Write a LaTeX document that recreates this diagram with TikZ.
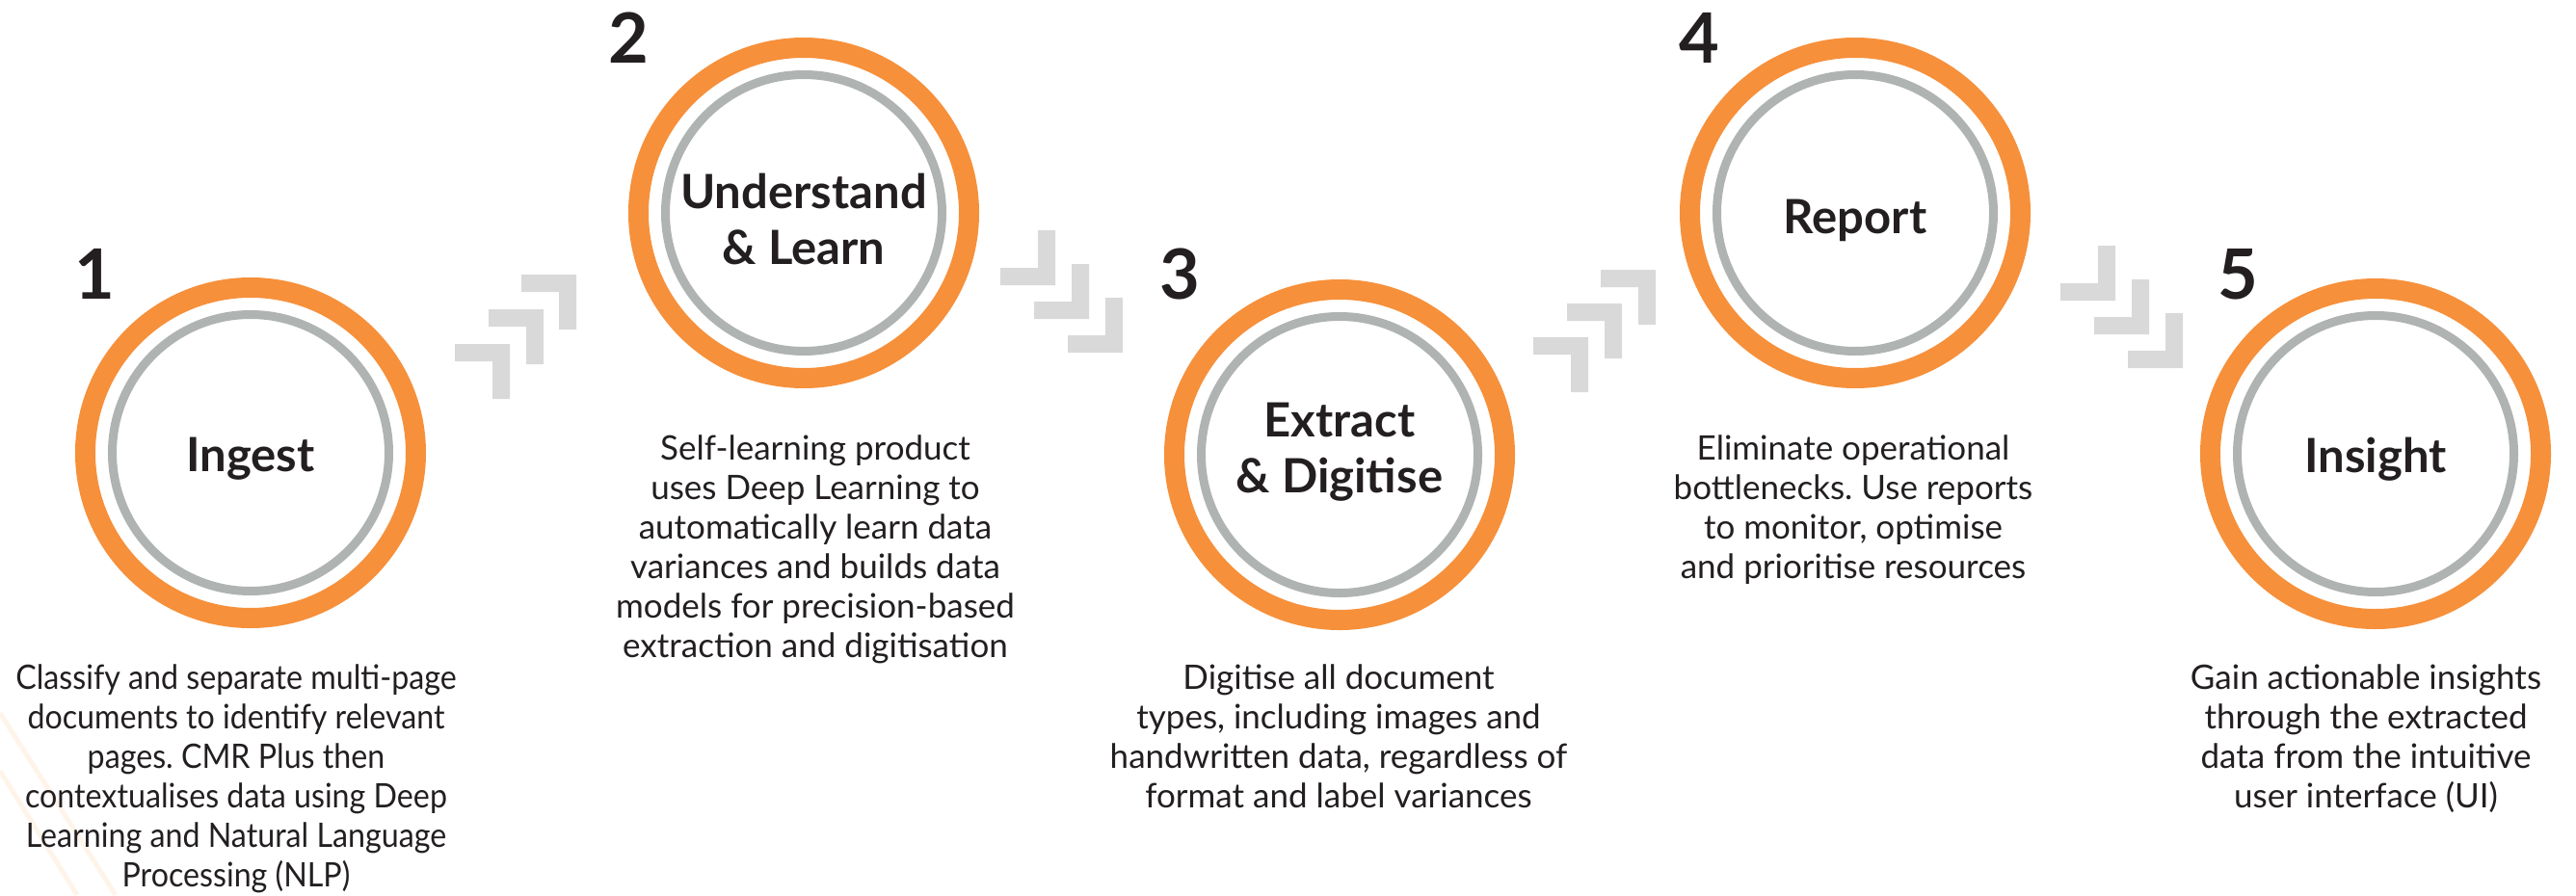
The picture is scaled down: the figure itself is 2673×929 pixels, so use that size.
\documentclass[tikz,border=0pt]{standalone}
\usepackage{fontspec}
\setmainfont{Lato}
\newfontfamily\narrowlato[FakeStretch=0.92]{Lato}
\definecolor{ringorange}{HTML}{F6903B}
\definecolor{ringgrey}{HTML}{AFB3B1}
\definecolor{chevgrey}{HTML}{D9D9D9}
\definecolor{inkblack}{HTML}{231F20}
\definecolor{faintorange}{HTML}{FEF4EA}
\frenchspacing
\tikzset{
  orangering/.style={draw=ringorange, line width=21pt},
  greyring/.style={draw=ringgrey, line width=9pt},
  title/.style={font=\bfseries\fontsize{49}{58}\selectfont, text=inkblack, align=center, inner sep=0pt},
  stepno/.style={font=\bfseries\fontsize{72}{72}\selectfont, text=inkblack, inner sep=0pt, anchor=base},
  blurb/.style={font=\fontsize{35}{41}\selectfont, text=inkblack, align=center, inner sep=0pt, anchor=north},
  pics/chevup/.style={code={\fill[chevgrey] (-57,0) -- (0,0) -- (0,57) -- (-18,57) -- (-18,18) -- (-57,18) -- cycle;}},
  pics/chevdown/.style={code={\fill[chevgrey] (0,-57) -- (0,0) -- (-57,0) -- (-57,-18) -- (-18,-18) -- (-18,-57) -- cycle;}}
}
\begin{document}
\begin{tikzpicture}[x=1pt,y=-1pt]
  \useasboundingbox (0,0) rectangle (2673,929);
  % faint streaks, lower left
  \draw[faintorange, line width=5pt] (0,740) -- (120,929);
  \draw[faintorange, line width=5pt] (0,800) -- (80,929);
  % rings
  \foreach \i/\x/\y in {1/260/470, 2/834/221, 3/1390/472, 4/1925/221, 5/2465/471} {
    \coordinate (c\i) at (\x,\y);
    \draw[orangering] (c\i) circle (171.5);
    \draw[greyring] (c\i) circle (143.5);
  }
  % step numbers
  \node[stepno] (n1) at (98,310) {1};
  \node[stepno] (n2) at (652,65) {2};
  \node[stepno] (n3) at (1224,310) {3};
  \node[stepno] (n4) at (1763,65) {4};
  \node[stepno] (n5) at (2322,310) {5};
  % titles
  \node[title] (ingest) at ([yshift=-6pt]c1) {Ingest};
  \node[title] (learn) at ([yshift=-6pt]c2) {Understand\\\& Learn};
  \node[title] (extract) at ([yshift=3pt]c3) {Extract\\\& Digitise};
  \node[title] (report) at ([yshift=-8pt]c4) {Report};
  \node[title] (insight) at ([yshift=-6pt]c5) {Insight};
  % chevrons
  \foreach \cx/\cy in {529/357, 564/321, 598/285, 1648/350, 1683/315, 1718/280}
    \pic at (\cx,\cy) {chevup};
  \foreach \cx/\cy in {1095/296, 1130/331, 1165/366, 2195/312, 2230/347, 2265/382}
    \pic at (\cx,\cy) {chevdown};
  % descriptions
  \node[blurb, font=\narrowlato\fontsize{35}{41}\selectfont] (d1) at (245,690) {Classify and separate multi-page\\documents to identify relevant\\pages. CMR Plus then\\contextualises data using Deep\\Learning and Natural Language\\Processing (NLP)};
  \node[blurb] (d2) at (846,452) {Self-learning product\\uses Deep Learning to\\automatically learn data\\variances and builds data\\models for precision-based\\extraction and digitisation};
  \node[blurb] (d3) at (1389,690) {Digitise all document\\types, including images and\\handwritten data, regardless of\\format and label variances};
  \node[blurb] (d4) at (1923,452) {Eliminate operational\\bottlenecks. Use reports\\to monitor, optimise\\and prioritise resources};
  \node[blurb] (d5) at (2455,690) {Gain actionable insights\\through the extracted\\data from the intuitive\\user interface (UI)};
\end{tikzpicture}
\end{document}
